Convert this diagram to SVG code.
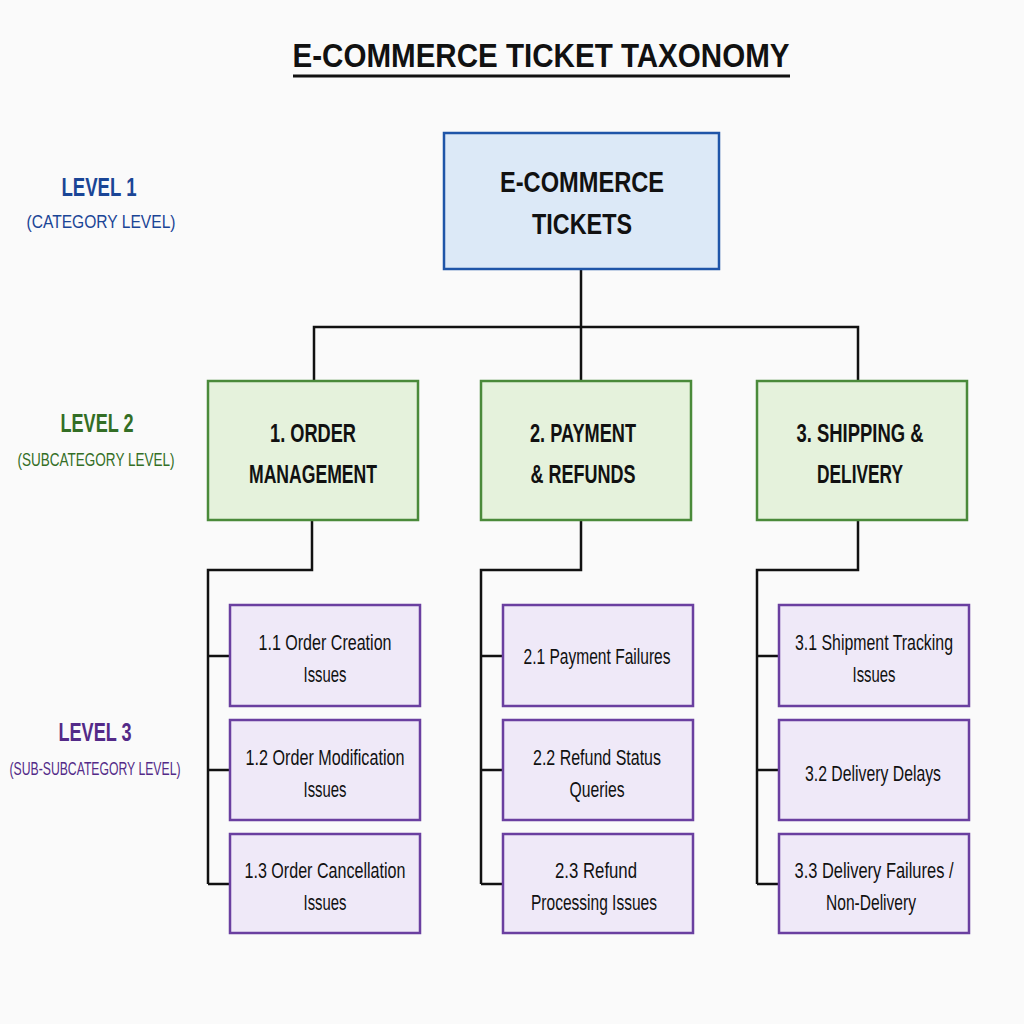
<svg xmlns="http://www.w3.org/2000/svg" width="1024" height="1024" viewBox="0 0 1024 1024">
<style>
text{font-family:"Liberation Sans",sans-serif;text-anchor:middle}
.t{font-size:34px;font-weight:bold;fill:#111}
.l1{fill:#dce9f7;stroke:#1f55a8;stroke-width:2.5}
.l2{fill:#e5f2dc;stroke:#4a8a3a;stroke-width:2.5}
.l3{fill:#efe9f8;stroke:#6a3fa0;stroke-width:2.5}
.n1{font-size:29px;font-weight:bold;fill:#111}
.n2{font-size:26px;font-weight:bold;fill:#111}
.n3{font-size:22px;fill:#111}
.c path{fill:none;stroke:#111;stroke-width:2.5}
.a{font-size:25px;font-weight:bold}
.b{font-size:19px}
</style>
<rect width="1024" height="1024" fill="#fafafa"/>
<text class="t" x="541" y="67" textLength="497" lengthAdjust="spacingAndGlyphs">E-COMMERCE TICKET TAXONOMY</text>
<line x1="293" y1="76" x2="790" y2="76" stroke="#111" stroke-width="3"/>
<g id="levels">
<text class="a" x="99" y="196" fill="#1a4596" textLength="75" lengthAdjust="spacingAndGlyphs">LEVEL 1</text>
<text class="b" x="101" y="228" fill="#1a4596" textLength="149" lengthAdjust="spacingAndGlyphs">(CATEGORY LEVEL)</text>
<text class="a" x="97" y="432" fill="#336e25" textLength="73" lengthAdjust="spacingAndGlyphs">LEVEL 2</text>
<text class="b" x="96" y="466" fill="#336e25" textLength="157" lengthAdjust="spacingAndGlyphs">(SUBCATEGORY LEVEL)</text>
<text class="a" x="95" y="741" fill="#532a88" textLength="73" lengthAdjust="spacingAndGlyphs">LEVEL 3</text>
<text class="b" x="95" y="775" fill="#532a88" textLength="171" lengthAdjust="spacingAndGlyphs">(SUB-SUBCATEGORY LEVEL)</text>
</g>
<g class="c" id="connectors">
<path d="M581 269V327M314 381V327H858V381M581 327V381"/>
<path d="M312 520V570H208V884M208 656H230M208 770H230M208 884H230"/>
<path d="M581 520V570H481V884M481 656H503M481 770H503M481 884H503"/>
<path d="M858 520V570H757V884M757 656H779M757 770H779M757 884H779"/>
</g>
<g id="root"><rect class="l1" x="444" y="133" width="275" height="136"/>
<text class="n1" x="582" y="192" textLength="164" lengthAdjust="spacingAndGlyphs">E-COMMERCE</text><text class="n1" x="582" y="234" textLength="100" lengthAdjust="spacingAndGlyphs">TICKETS</text></g>
<g id="c1"><rect class="l2" x="208" y="381" width="210" height="139"/>
<text class="n2" x="313" y="442" textLength="86" lengthAdjust="spacingAndGlyphs">1. ORDER</text><text class="n2" x="313" y="483" textLength="128" lengthAdjust="spacingAndGlyphs">MANAGEMENT</text></g>
<g id="c2"><rect class="l2" x="481" y="381" width="210" height="139"/>
<text class="n2" x="583" y="442" textLength="106" lengthAdjust="spacingAndGlyphs">2. PAYMENT</text><text class="n2" x="583" y="483" textLength="105" lengthAdjust="spacingAndGlyphs">&amp; REFUNDS</text></g>
<g id="c3"><rect class="l2" x="757" y="381" width="210" height="139"/>
<text class="n2" x="860" y="442" textLength="127" lengthAdjust="spacingAndGlyphs">3. SHIPPING &amp;</text><text class="n2" x="860" y="483" textLength="86" lengthAdjust="spacingAndGlyphs">DELIVERY</text></g>
<g id="s11"><rect class="l3" x="230" y="605" width="190" height="101"/>
<text class="n3" x="325" y="650" textLength="133" lengthAdjust="spacingAndGlyphs">1.1 Order Creation</text><text class="n3" x="325" y="682" textLength="43" lengthAdjust="spacingAndGlyphs">Issues</text></g>
<g id="s12"><rect class="l3" x="230" y="720" width="190" height="100"/>
<text class="n3" x="325" y="765" textLength="159" lengthAdjust="spacingAndGlyphs">1.2 Order Modification</text><text class="n3" x="325" y="797" textLength="43" lengthAdjust="spacingAndGlyphs">Issues</text></g>
<g id="s13"><rect class="l3" x="230" y="834" width="190" height="99"/>
<text class="n3" x="325" y="878" textLength="161" lengthAdjust="spacingAndGlyphs">1.3 Order Cancellation</text><text class="n3" x="325" y="910" textLength="43" lengthAdjust="spacingAndGlyphs">Issues</text></g>
<g id="s21"><rect class="l3" x="503" y="605" width="190" height="101"/>
<text class="n3" x="597" y="664" textLength="147" lengthAdjust="spacingAndGlyphs">2.1 Payment Failures</text></g>
<g id="s22"><rect class="l3" x="503" y="720" width="190" height="100"/>
<text class="n3" x="597" y="765" textLength="128" lengthAdjust="spacingAndGlyphs">2.2 Refund Status</text><text class="n3" x="597" y="797" textLength="55" lengthAdjust="spacingAndGlyphs">Queries</text></g>
<g id="s23"><rect class="l3" x="503" y="834" width="190" height="99"/>
<text class="n3" x="596" y="878" textLength="82" lengthAdjust="spacingAndGlyphs">2.3 Refund</text><text class="n3" x="594" y="910" textLength="126" lengthAdjust="spacingAndGlyphs">Processing Issues</text></g>
<g id="s31"><rect class="l3" x="779" y="605" width="190" height="101"/>
<text class="n3" x="874" y="650" textLength="158" lengthAdjust="spacingAndGlyphs">3.1 Shipment Tracking</text><text class="n3" x="874" y="682" textLength="43" lengthAdjust="spacingAndGlyphs">Issues</text></g>
<g id="s32"><rect class="l3" x="779" y="720" width="190" height="100"/>
<text class="n3" x="873" y="781" textLength="136" lengthAdjust="spacingAndGlyphs">3.2 Delivery Delays</text></g>
<g id="s33"><rect class="l3" x="779" y="834" width="190" height="99"/>
<text class="n3" x="874" y="878" textLength="159" lengthAdjust="spacingAndGlyphs">3.3 Delivery Failures /</text><text class="n3" x="871" y="910" textLength="90" lengthAdjust="spacingAndGlyphs">Non-Delivery</text></g>
</svg>
